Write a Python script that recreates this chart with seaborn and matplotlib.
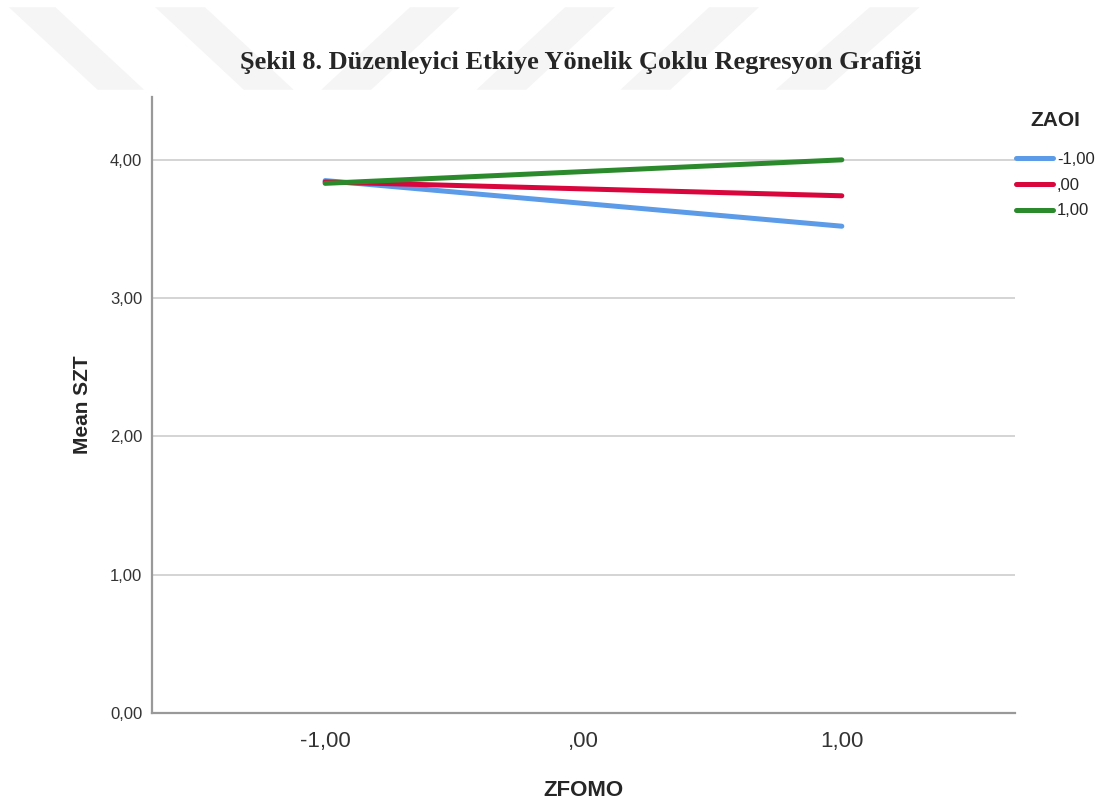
import matplotlib
matplotlib.use("Agg")
import matplotlib.pyplot as plt
import seaborn as sns
import pandas as pd
from matplotlib.patches import Polygon

# veriler
zfomo = [-1.0, 1.0]
zaoi_levels = ["-1,00", ",00", "1,00"]
szt_low = [3.85, 3.52]
szt_mid = [3.84, 3.74]
szt_high = [3.83, 4.00]

x_ticks = [-1, 0, 1]
x_labels = ["-1,00", ",00", "1,00"]
y_ticks = [0, 1, 2, 3, 4]
y_labels = ["0,00", "1,00", "2,00", "3,00", "4,00"]

df = pd.DataFrame({
    "ZFOMO": zfomo * 3,
    "SZT": szt_low + szt_mid + szt_high,
    "ZAOI": [zaoi_levels[0]] * 2 + [zaoi_levels[1]] * 2 + [zaoi_levels[2]] * 2,
})

sns.set_style("white")
plt.rcParams['font.family'] = ['Liberation Sans', 'DejaVu Sans']

fig = plt.figure(figsize=(11.08, 8.01), dpi=100)

# soluk filigran şeritleri (taranmış sayfadaki arka plan)
stripes = [
    [(0.008, 0.991), (0.050, 0.991), (0.130, 0.888), (0.088, 0.888)],
    [(0.140, 0.991), (0.185, 0.991), (0.265, 0.888), (0.220, 0.888)],
    [(0.290, 0.888), (0.335, 0.888), (0.415, 0.991), (0.370, 0.991)],
    [(0.430, 0.888), (0.475, 0.888), (0.555, 0.991), (0.510, 0.991)],
    [(0.560, 0.888), (0.605, 0.888), (0.685, 0.991), (0.640, 0.991)],
    [(0.700, 0.888), (0.745, 0.888), (0.830, 0.991), (0.785, 0.991)],
]
for s in stripes:
    fig.patches.append(Polygon(s, closed=True, transform=fig.transFigure,
                               facecolor="#f5f5f5", edgecolor="none", zorder=0))

ax = fig.add_axes([0.1372, 0.1099, 0.7788, 0.7691])
ax.patch.set_alpha(0)

palette = {"-1,00": "#5b9be8", ",00": "#d8063c", "1,00": "#2b8a2b"}
sns.lineplot(data=df, x="ZFOMO", y="SZT", hue="ZAOI", hue_order=zaoi_levels,
             palette=palette, linewidth=3.6, ax=ax, zorder=3)

ax.set_xlim(-1.67, 1.67)
ax.set_ylim(0, 4.455)
ax.set_xticks(x_ticks)
ax.set_xticklabels(x_labels, fontsize=16, color="#333333")
ax.set_yticks(y_ticks)
ax.set_yticklabels(y_labels, fontsize=12, color="#333333")
ax.tick_params(axis="both", length=0)
ax.tick_params(axis="x", pad=13)
ax.tick_params(axis="y", pad=7)

for yv in y_ticks[1:]:
    ax.axhline(yv, color="#d4d4d4", linewidth=1.4, zorder=1)

for side in ["top", "right"]:
    ax.spines[side].set_visible(False)
for side in ["left", "bottom"]:
    ax.spines[side].set_color("#999999")
    ax.spines[side].set_linewidth(1.6)

ax.set_xlabel("ZFOMO", fontsize=16, fontweight="bold", labelpad=20)
ax.set_ylabel("Mean SZT", fontsize=15, fontweight="bold", labelpad=13)

leg = ax.legend(title="ZAOI", loc="upper left", bbox_to_anchor=(0.917, 0.862),
                bbox_transform=fig.transFigure, frameon=False, fontsize=12,
                title_fontproperties={"weight": "bold", "size": 15},
                handlelength=2.2, handletextpad=0.25, labelspacing=0.65,
                borderaxespad=0, borderpad=0)
leg._legend_box.align = "center"
leg._legend_box.sep = 16

fig.text(0.524, 0.922, "Şekil 8. Düzenleyici Etkiye Yönelik Çoklu Regresyon Grafiği",
         ha="center", va="center", fontsize=19, fontweight="bold",
         family=["Liberation Serif", "DejaVu Serif"])

fig.savefig("out.png", dpi=100)
